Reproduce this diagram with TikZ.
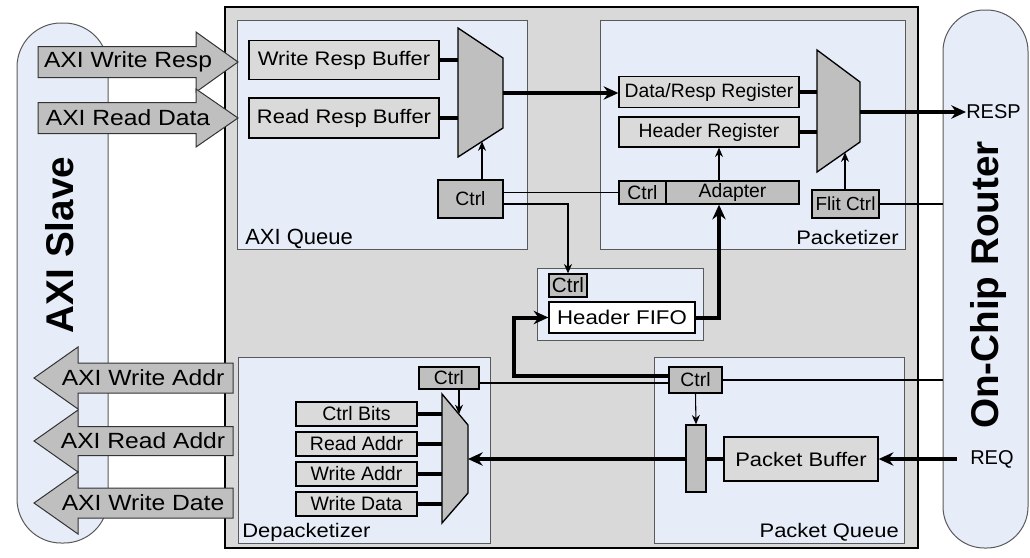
\documentclass[tikz,border=0pt]{standalone}
\usepackage{fontspec}
\setmainfont{Liberation Sans}
\newfontfamily\widesans{Liberation Sans}[FakeStretch=1.12]
\usetikzlibrary{arrows.meta,calc}
\definecolor{lblue}{HTML}{E7EDF8}
\definecolor{bggray}{HTML}{D9D9D9}
\definecolor{boxgray}{HTML}{DADADA}
\definecolor{dgray}{HTML}{BFBFBF}
\definecolor{edgec}{HTML}{595959}
\tikzset{
  wh/.style 2 args={minimum width=#1*0.75pt, minimum height=#2*0.75pt},
  fs/.style={font=\fontsize{#1}{#1}\selectfont},
  fw/.style={font=\widesans\fontsize{#1}{#1}\selectfont},
  section/.style={draw=edgec, line width=0.75pt, fill=lblue, inner sep=0pt},
  lightbox/.style={draw=black, line width=1pt, fill=boxgray, inner sep=0pt},
  darkbox/.style={draw=black, line width=1pt, fill=dgray, inner sep=0pt},
  wire/.style={line width=0.8pt, draw=black},
  bus/.style={line width=3pt, draw=black},
  wtip/.style={-{Stealth[length=7pt,width=6pt]}},
  btip/.style={-{Stealth[length=11pt,width=10pt]}},
  muxshape/.style={draw=black, line width=1pt, fill=dgray, line join=miter},
  blockarrow/.style={draw=black!80, line width=0.75pt, fill=dgray, line join=miter},
  bar/.style={draw=edgec, line width=0.75pt, fill=lblue, inner sep=0pt},
}
\begin{document}
\begin{tikzpicture}[x=0.75pt,y=-0.75pt]
\useasboundingbox (0,0) rectangle (1030,557);

% side bars
\node[bar, rounded corners=33pt, wh={91}{520}] (slave) at (62.5,283) {};
\node[rotate=90, font=\bfseries\fontsize{29}{29}\selectfont] (slavelbl) at (60,245) {AXI Slave};
\node[bar, rounded corners=31pt, wh={85}{538}] (router) at (985.5,279) {};
\node[rotate=90, font=\bfseries\fontsize{29}{29}\selectfont] (routerlbl) at (988,285) {On-Chip Router};

% outer box
\node[draw=black, line width=1.3pt, fill=bggray, wh={693}{541}] (outer) at (571.5,277.5) {};

% sections
\node[section, wh={290}{229}] (axiq) at (382,134.5) {};
\node[section, wh={305}{229}] (pktz) at (752.5,134.5) {};
\node[section, wh={166}{72}] (fifobox) at (620,304) {};
\node[section, wh={252}{186}] (depk) at (364,450) {};
\node[section, wh={250}{186}] (pq) at (779,450) {};

\node[fs=16.5, anchor=base west, inner sep=0pt] (axiqlbl) at (245,244) {AXI Queue};
\node[fw=14.7, anchor=base east, inner sep=0pt] (pktzlbl) at (899,244) {Packetizer};
\node[fw=14.7, anchor=base west, inner sep=0pt] (depklbl) at (242,537) {Depacketizer};
\node[fw=14.7, anchor=base east, inner sep=0pt] (pqlbl) at (899,537) {Packet Queue};

% AXI queue
\node[lightbox, wh={190}{39}, fw=14.7] (wrb) at (344,60) {Write Resp Buffer};
\node[lightbox, wh={190}{40}, fw=14.7] (rrb) at (344,118) {Read Resp Buffer};
\draw[muxshape] (458,28) -- (503,58) -- (503,128) -- (458,157) -- cycle;
\coordinate (m1L) at (458,93);
\coordinate (m1R) at (503,93);
\coordinate (m1B) at (482,141.5);
\node[darkbox, wh={65}{38}, fs=14.5] (ctrl1) at (470.5,199) {Ctrl};
\draw[bus] (wrb.east) -- (wrb.east -| m1L);
\draw[bus] (rrb.east) -- (rrb.east -| m1L);
\draw[wire, wtip] (ctrl1.north -| m1B) -- (m1B);

% Packetizer
\node[lightbox, wh={180}{31}, fs=14.5] (drr) at (709,92) {Data/Resp Register};
\node[lightbox, wh={180}{30}, fs=14.5] (hr) at (709,132) {Header Register};
\node[darkbox, wh={47}{23}, fs=14.5] (pctrl) at (642.5,192.5) {Ctrl};
\node[darkbox, wh={133}{23}, fs=14.5] (adapter) at (732.5,192.5) {\raisebox{1pt}{Adapter}};
\coordinate (adx) at (719,0);
\draw[muxshape] (817,50) -- (860,82) -- (860,142) -- (817,172) -- cycle;
\coordinate (m2L) at (817,112);
\coordinate (m2R) at (860,112);
\coordinate (m2B) at (845,152.5);
\node[darkbox, wh={67}{28}, fs=14.2] (flit) at (845.5,204) {Flit Ctrl};
\draw[bus] (drr.east) -- (drr.east -| m2L);
\draw[bus] (hr.east) -- (hr.east -| m2L);
\draw[wire, wtip] (adapter.north -| adx) -- (hr.south -| adx);
\draw[wire, wtip] (flit.north -| m2B) -- (m2B);
\draw[wire] (flit.east) -- (flit.east -| router.west);
\node[fs=15, anchor=west, inner sep=0pt] (resp) at (966,112) {RESP};
\draw[bus, btip] (m2R) -- (resp.west);
\draw[bus, btip] (m1R) -- (m1R -| drr.west);

% ctrl wires
\draw[wire] (ctrl1.east |- pctrl.west) -- (pctrl.west);

% Header FIFO
\node[darkbox, wh={38}{23}, fs=15.5] (fctrl) at (568,285.5) {Ctrl};
\node[draw=black, line width=1pt, fill=white, inner sep=0pt, wh={146}{31}, fw=14.9] (fifo) at (622,317.5) {Header FIFO};
\draw[wire, wtip] ([yshift=-3.75pt]ctrl1.east) -| (fctrl.north);
\draw[bus, btip] (fifo.east) -| (adapter.south -| adx);

% Depacketizer
\node[darkbox, wh={60}{22}, fs=14.5] (dctrl) at (449,378) {Ctrl};
\node[lightbox, wh={121}{24}, fs=14.6] (cb) at (356.5,414) {Ctrl Bits};
\node[lightbox, wh={121}{24}, fs=14.6] (ra) at (356.5,444) {Read Addr};
\node[lightbox, wh={121}{24}, fs=14.6] (wa) at (356.5,474) {Write Addr};
\node[lightbox, wh={121}{24}, fs=14.6] (wd) at (356.5,504) {Write Data};
\draw[muxshape] (442,394) -- (468,425) -- (468,493) -- (442,523) -- cycle;
\coordinate (m3L) at (442,459);
\coordinate (m3R) at (468,459);
\coordinate (m3T) at (459,414);
\foreach \b in {cb,ra,wa,wd} \draw[bus] (\b.east) -- (\b.east -| m3L);
\draw[wire, wtip] (dctrl.south -| m3T) -- (m3T);

% Packet Queue
\node[darkbox, wh={53}{26}, fs=14.5] (pqctrl) at (695.5,380) {Ctrl};
\node[darkbox, wh={20}{67}] (pbar) at (696,458.5) {};
\node[lightbox, wh={154}{44}, fw=14.7] (pb) at (801,459) {Packet Buffer};
\draw[bus] (pb.west) -- (pb.west -| pbar.east);
\draw[wire, wtip] (pqctrl.south) -- (pbar.north);
\draw[bus, btip] (pbar.west |- m3R) -- (m3R);
\node[fs=15, anchor=west, inner sep=0pt] (req) at (970,459) {REQ};
\draw[bus, btip] ([xshift=-10pt]req.west) -- (pb.east);
\draw[wire] (pqctrl.east) -- (pqctrl.east -| router.west);
\draw[wire] ([yshift=-3.75pt]dctrl.east) -- ([yshift=-3.75pt]dctrl.east -| pqctrl.west);
\draw[bus, btip] ([yshift=3pt]pqctrl.west) -| ([xshift=-25.5pt]fifo.west) -- (fifo.west);

% AXI block arrows (in)
\draw[blockarrow] (38,46.5) -- (196,46.5) -- (196,32) -- (238,62) -- (196,92) -- (196,77.5) -- (38,77.5) -- cycle;
\node[fw=16.5] (wrl) at (128,62) {AXI Write Resp};
\draw[blockarrow] (38,102.5) -- (196,102.5) -- (196,89) -- (238,118) -- (196,147) -- (196,133.5) -- (38,133.5) -- cycle;
\node[fw=16.5] (rdl) at (128,118) {AXI Read Data};

% AXI block arrows (out)
\draw[blockarrow] (233,363) -- (78,363) -- (78,347) -- (34,378) -- (78,409) -- (78,393) -- (233,393) -- cycle;
\node[fw=16.5] (wal) at (143,378) {AXI Write Addr};
\draw[blockarrow] (233,426.5) -- (78,426.5) -- (78,410) -- (34,441) -- (78,472) -- (78,455.5) -- (233,455.5) -- cycle;
\node[fw=16.5] (ral) at (143,441) {AXI Read Addr};
\draw[blockarrow] (233,488) -- (78,488) -- (78,472) -- (34,503) -- (78,534) -- (78,518) -- (233,518) -- cycle;
\node[fw=16.5] (wdl) at (143,503) {AXI Write Date};
\end{tikzpicture}
\end{document}
